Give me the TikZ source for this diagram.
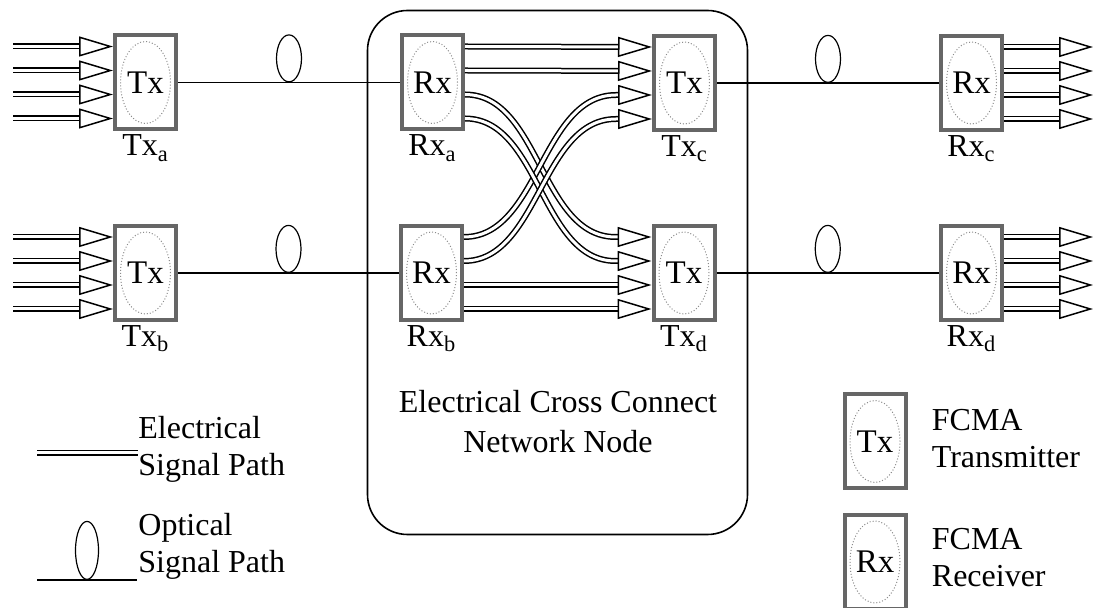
\documentclass[tikz,border=0pt]{standalone}
\usepackage{fontspec}
\setmainfont{Liberation Serif}
\usepackage{tikz}
\usetikzlibrary{positioning, arrows.meta, calc, shapes.geometric}

\begin{document}
\begin{tikzpicture}[
    x=0.5pt, y=-0.5pt,
    fcma/.style={draw=black!60, line width=2pt, fill=white, inner sep=0pt,
                 minimum width=30.5pt, minimum height=47pt,
                 font=\fontsize{16.5}{19}\selectfont,
                 path picture={\draw[black!45, densely dotted, line width=0.5pt]
                     (path picture bounding box.center) ellipse [x radius=12.5pt, y radius=20.5pt];}},
    lbl/.style={inner sep=0pt, font=\fontsize{16}{19}\selectfont},
    legtxt/.style={inner sep=0pt, align=left, font=\fontsize{16}{18.5}\selectfont},
    xcbox/.style={draw, line width=0.8pt, rounded corners=20pt,
                  minimum width=190pt, minimum height=262pt},
    sigline/.style={draw=black, double=white, double distance=1.5pt, line width=0.75pt},
    sig/.style={sigline, -{Triangle[open, length=17pt, width=10pt, line width=0.75pt]}},
    opt/.style={line width=0.6pt},
    fiber/.style={draw, ellipse, line width=0.6pt, inner sep=0pt, anchor=south,
                  minimum width=12.5pt, minimum height=23.5pt},
]
\useasboundingbox (0,0) rectangle (1093,608);

% Cross connect node
\node[xcbox] (xc) at (557.5,272.5) {};
\node[lbl, align=center, font=\fontsize{16}{20}\selectfont] (xcLbl) at (558,422)
    {Electrical Cross Connect\\Network Node};

% Transmitters and receivers
\node[fcma] (txa) at (145.5,82.5) {Tx};
\node[fcma] (txb) at (145.5,273) {Tx};
\node[fcma] (rxa) at (432.5,82.5) {Rx};
\node[fcma] (rxb) at (431.5,273) {Rx};
\node[fcma] (txc) at (684.5,83) {Tx};
\node[fcma] (txd) at (684,273) {Tx};
\node[fcma] (rxc) at (971.5,83) {Rx};
\node[fcma] (rxd) at (971.5,273) {Rx};

\node[lbl, below=1.5pt of txa] (txaLbl) {Tx\textsubscript{a}};
\node[lbl, below=1.5pt of txb] (txbLbl) {Tx\textsubscript{b}};
\node[lbl, below=1.5pt of rxa] (rxaLbl) {Rx\textsubscript{a}};
\node[lbl, below=1.5pt of rxb] (rxbLbl) {Rx\textsubscript{b}};
\node[lbl, below=1.5pt of txc] (txcLbl) {Tx\textsubscript{c}};
\node[lbl, below=1.5pt of txd] (txdLbl) {Tx\textsubscript{d}};
\node[lbl, below=1.5pt of rxc] (rxcLbl) {Rx\textsubscript{c}};
\node[lbl, below=1.5pt of rxd] (rxdLbl) {Rx\textsubscript{d}};

% Optical links
\draw[opt] (txa) -- node[fiber, midway] (fibA) {} (rxa);
\draw[opt] (txb) -- node[fiber, midway] (fibB) {} (rxb);
\draw[opt] (txc) -- node[fiber, midway] (fibC) {} (rxc);
\draw[opt] (txd) -- node[fiber, midway] (fibD) {} (rxd);

% Electrical inputs and outputs
\foreach \o in {-36,-12,12,36} {
    \draw[sig] ($(txa.west)+(-100,\o)$) -- ($(txa.west)+(0,\o)$);
    \draw[sig] ($(txb.west)+(-100,\o)$) -- ($(txb.west)+(0,\o)$);
    \draw[sig] ($(rxc.east)+(0,\o)$) -- ($(rxc.east)+(89,\o)$);
    \draw[sig] ($(rxd.east)+(0,\o)$) -- ($(rxd.east)+(89,\o)$);
}

% Straight through paths
\foreach \o in {-36,-12} {
    \draw[sig] ($(rxa.east)+(0,\o)$) -- ($(txc.west)+(0,\o)$);
}
\foreach \o in {12,36} {
    \draw[sig] ($(rxb.east)+(0,\o)$) -- ($(txd.west)+(0,\o)$);
}

% Crossed paths
\foreach \o in {12,36} {
    \draw[sig] ($(rxa.east)+(0,\o)$) .. controls +(75,0) and +(-75,0) ..
        ($(txd.west)+(-36,\o-48)$) -- ($(txd.west)+(0,\o-48)$);
    \draw[sig] ($(rxb.east)+(0,\o-48)$) .. controls +(75,0) and +(-75,0) ..
        ($(txc.west)+(-36,\o)$) -- ($(txc.west)+(0,\o)$);
}

% Legend
\coordinate (elA) at (37,453);
\coordinate (elB) at (138,453);
\draw[sigline] (elA) -- (elB);
\node[legtxt, right=0pt of elB, yshift=2pt] (elTxt) {Electrical\\Signal Path};

\coordinate (opA) at (37,580);
\coordinate (opB) at (137,580);
\draw[opt] (opA) -- (opB);
\node[fiber, minimum width=11.5pt, minimum height=29pt] (opFib) at ($(opA)!0.5!(opB)$) {};
\node[legtxt, anchor=west] (opTxt) at (138,546) {Optical\\Signal Path};

\node[fcma] (ltx) at (875,441.5) {Tx};
\node[fcma] (lrx) at (875,562) {Rx};
\node[legtxt, right=12pt of ltx, yshift=1.5pt] (ltxTxt) {FCMA\\Transmitter};
\node[legtxt, right=12pt of lrx, yshift=2pt] (lrxTxt) {FCMA\\Receiver};

\end{tikzpicture}
\end{document}
